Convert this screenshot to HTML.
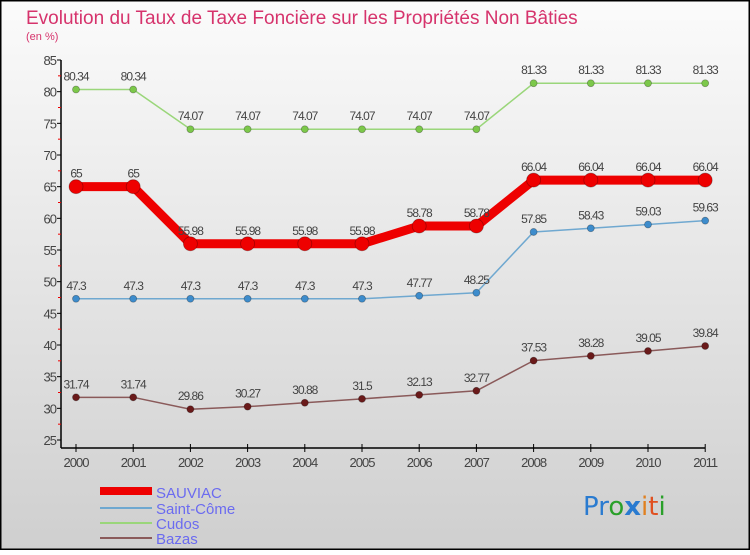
<!DOCTYPE html>
<html><head><meta charset="utf-8"><style>
html,body{margin:0;padding:0}
body{width:750px;height:550px;overflow:hidden;font-family:"Liberation Sans",sans-serif}
</style></head><body>
<svg width="750" height="550" xmlns="http://www.w3.org/2000/svg">
<defs><linearGradient id="bg" x1="0" y1="0" x2="0" y2="1"><stop offset="0" stop-color="#fbfbfb"/><stop offset="1" stop-color="#cfcfcf"/></linearGradient></defs>
<rect x="0.5" y="0.5" width="749" height="549" fill="url(#bg)" stroke="#000" stroke-width="2"/>
<text x="26" y="24" font-size="19" fill="#d6336c">Evolution du Taux de Taxe Foncière sur les Propriétés Non Bâties</text>
<text x="26" y="40" font-size="11" fill="#d6336c">(en %)</text>
<g id="axes"></g>
<g id="series"></g>
<g>
<rect x="100" y="487" width="52" height="8" fill="#e00"/>
<text x="156" y="498" font-size="15" fill="#6b6bf0">SAUVIAC</text>
<rect x="100" y="507" width="52" height="2" fill="#6fa8d0"/>
<text x="156" y="514" font-size="15" fill="#6b6bf0">Saint-Côme</text>
<rect x="100" y="522" width="52" height="2" fill="#9ad67a"/>
<text x="156" y="529" font-size="15" fill="#6b6bf0">Cudos</text>
<rect x="100" y="537" width="52" height="2" fill="#8a5a5a"/>
<text x="156" y="544" font-size="15" fill="#6b6bf0">Bazas</text>
</g>
<text x="583" y="515" font-size="26" font-family="DejaVu Sans,sans-serif"><tspan fill="#2a7bd0">Pr</tspan><tspan fill="#2aa02a">o</tspan><tspan fill="#2a7bd0" font-weight="bold">x</tspan><tspan fill="#e08020">i</tspan><tspan fill="#e05020">t</tspan><tspan fill="#2aa02a">i</tspan></text>
</svg>
<script>
const years=[2000,2001,2002,2003,2004,2005,2006,2007,2008,2009,2010,2011];
const yTicks=[25,30,35,40,45,50,55,60,65,70,75,80,85];
const sauviac=[65,65,55.98,55.98,55.98,55.98,58.78,58.78,66.04,66.04,66.04,66.04];
const saintCome=[47.3,47.3,47.3,47.3,47.3,47.3,47.77,48.25,57.85,58.43,59.03,59.63];
const cudos=[80.34,80.34,74.07,74.07,74.07,74.07,74.07,74.07,81.33,81.33,81.33,81.33];
const bazas=[31.74,31.74,29.86,30.27,30.88,31.5,32.13,32.77,37.53,38.28,39.05,39.84];
const NS="http://www.w3.org/2000/svg";
const X=i=>76+i*57.2;
const Y=v=>440-(v-25)*380/60;
function mk(t,a,p){const e=document.createElementNS(NS,t);for(const k in a)e.setAttribute(k,a[k]);p.appendChild(e);return e;}
const ax=document.getElementById('axes');
mk('line',{x1:61,y1:60,x2:61,y2:448,stroke:'#000','stroke-width':1.5},ax);
mk('line',{x1:61,y1:448,x2:X(11),y2:448,stroke:'#000','stroke-width':1.5},ax);
yTicks.forEach((t,i)=>{
  mk('line',{x1:57,y1:Y(t),x2:61,y2:Y(t),stroke:'#000'},ax);
  if(i<yTicks.length-1)mk('line',{x1:58,y1:Y(t+2.5),x2:61,y2:Y(t+2.5),stroke:'#e00'},ax);
  const tx=mk('text',{x:56,y:Y(t)+5,'text-anchor':'end','font-size':13,fill:'#444','letter-spacing':'-1'},ax);
  
  
  tx.textContent=t;
});
years.forEach((yr,i)=>{
  mk('line',{x1:X(i),y1:444,x2:X(i),y2:452,stroke:'#000'},ax);
  const tx=mk('text',{x:X(i),y:467,'text-anchor':'middle','font-size':13,fill:'#444','letter-spacing':'-1'},ax);
  
  
  tx.textContent=yr;
});
const sg=document.getElementById('series');
function draw(name,vals,color,dot,w,r){
  const g=mk('g',{},sg);
  
  
  mk('polyline',{points:vals.map((v,i)=>X(i)+','+Y(v)).join(' '),fill:'none',stroke:color,'stroke-width':w,'stroke-linejoin':'round'},g);
  vals.forEach((v,i)=>{
    const c=mk('circle',{cx:X(i),cy:Y(v),r:r,fill:dot,stroke:'rgba(0,0,0,0.3)','stroke-width':0.8},g);
    
    
    const t=mk('text',{x:X(i),y:Y(v)-9,'text-anchor':'middle','font-size':12,fill:'#444','letter-spacing':'-1'},g);
    
    
    t.textContent=String(v);
  });
}
draw('cudos',cudos,'#9ad67a','#7cc84a',1.5,3.5);
draw('saint-come',saintCome,'#6fa8d0','#3d8ccc',1.5,3.5);
draw('bazas',bazas,'#8a5a5a','#6a1a1a',1.5,3.5);
draw('sauviac',sauviac,'#e00','#e00',9,7);
</script>
</body></html>
